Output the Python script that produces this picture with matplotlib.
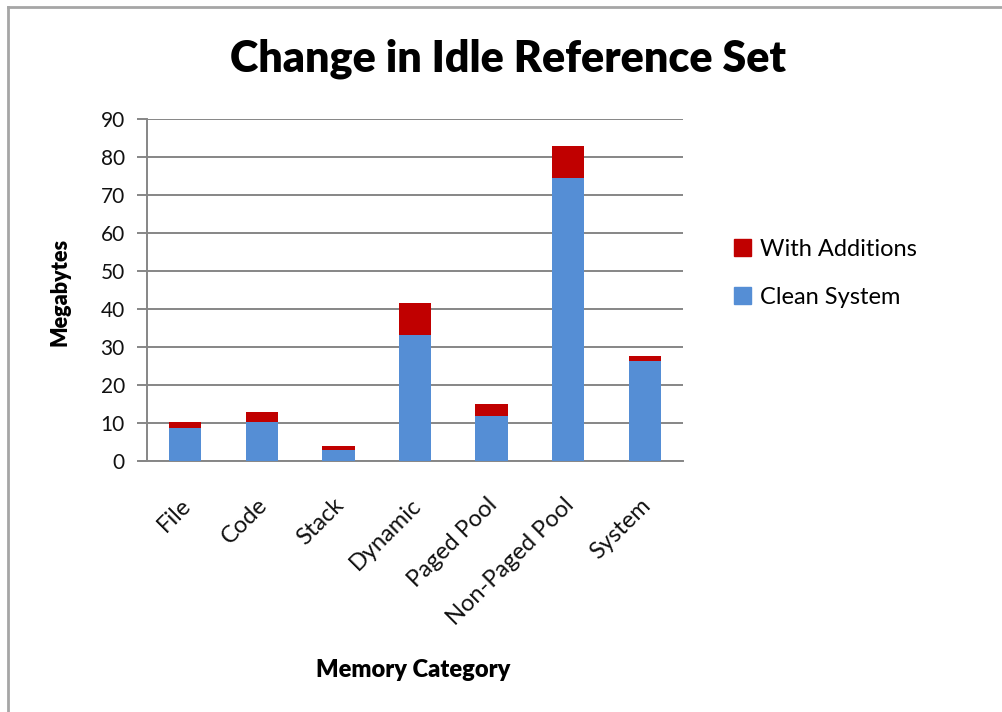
import matplotlib.pyplot as plt
from matplotlib.lines import Line2D
from matplotlib.patches import Patch
import matplotlib.transforms as mtransforms
import numpy as np

categories = ["File", "Code", "Stack", "Dynamic", "Paged Pool", "Non-Paged Pool", "System"]
clean_system = [8.6, 10.2, 2.9, 33.1, 11.9, 74.4, 26.2]
with_additions = [10.2, 12.9, 3.9, 41.5, 15.0, 82.8, 27.7]
y_ticks = [0, 10, 20, 30, 40, 50, 60, 70, 80, 90]

blue = "#558ED5"
red = "#C00000"
grid_color = "#868686"
font = "Lato"

fig = plt.figure(figsize=(10.03, 7.12), dpi=100)
ax = fig.add_axes([147 / 1003, 1 - 461 / 712, (683 - 147) / 1003, (461 - 119) / 712])

x = np.arange(len(categories))
clean = np.array(clean_system)
total = np.array(with_additions)
ax.bar(x, clean, width=0.42, color=blue, zorder=3)
ax.bar(x, total - clean, bottom=clean, width=0.42, color=red, zorder=3)

ax.set_xlim(-0.5, len(categories) - 0.5)
ax.set_ylim(0, 90)
ax.set_yticks(y_ticks)
ax.yaxis.grid(True, color=grid_color, linewidth=1.4, zorder=0)
ax.set_axisbelow(True)
for s in ["top", "right"]:
    ax.spines[s].set_visible(False)
ax.spines["left"].set_color(grid_color)
ax.spines["left"].set_linewidth(1.4)
ax.spines["bottom"].set_color(grid_color)
ax.spines["bottom"].set_linewidth(1.4)
ax.tick_params(axis="y", length=7, color=grid_color, width=1.4, pad=9,
               labelsize=15, labelcolor="#111111")
ax.tick_params(axis="x", length=0, pad=24)
ax.set_xticks(x)
ax.set_xticklabels(categories, rotation=45, ha="right", rotation_mode="anchor",
                   fontsize=17, color="#111111", family=font)
shift = mtransforms.ScaledTranslation(-5 / 100, 0, fig.dpi_scale_trans)
for lab in ax.get_xticklabels():
    lab.set_transform(lab.get_transform() + shift)
for lab in ax.get_yticklabels():
    lab.set_family(font)

# baseline extends left past the axis like the y tick marks
ax.plot([-0.5 - 7 / 76.5, -0.5], [0, 0], color=grid_color, lw=1.4, clip_on=False)

fig.text(0.506, 0.918, "Change in Idle Reference Set", ha="center", va="center",
         fontsize=31, fontweight="heavy", family=font)
fig.text(0.060, 0.590, "Megabytes", rotation=90, ha="center", va="center",
         fontsize=15.5, fontweight="heavy", family=font)
fig.text(0.412, 0.059, "Memory Category", ha="center", va="center",
         fontsize=17, fontweight="heavy", family=font)

handles = [Patch(color=red, label="With Additions"), Patch(color=blue, label="Clean System")]
fig.legend(handles=handles, loc="center left", bbox_to_anchor=(0.711, 0.616),
           frameon=False, handlelength=0.7, handleheight=0.7,
           handletextpad=0.4, labelspacing=1.15, prop={"family": font, "size": 17})

# chart frame edges
fig.add_artist(Line2D([8 / 1003, 1.0], [1 - 7 / 712, 1 - 7 / 712], color="#A6A6A6", lw=2))
fig.add_artist(Line2D([8 / 1003, 8 / 1003], [0, 1 - 7 / 712], color="#A6A6A6", lw=2))

fig.savefig("out.png", dpi=100)
